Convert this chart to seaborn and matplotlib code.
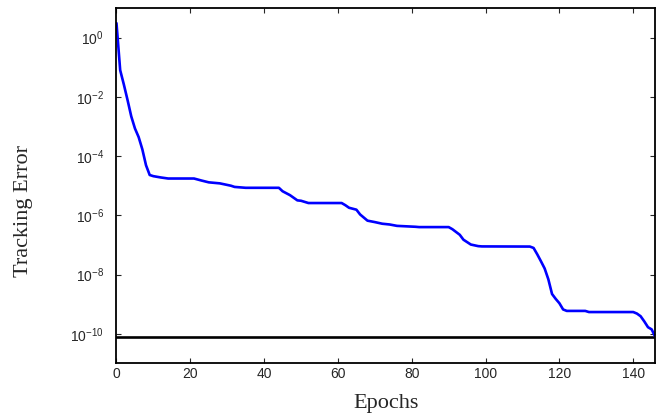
import pandas as pd
import numpy as np
import matplotlib
matplotlib.use("Agg")
import matplotlib.pyplot as plt
import seaborn as sns

# Data (training performance curve)
epochs = [0, 1, 2, 3, 4, 5, 6, 7, 8, 9, 10, 12, 14, 21, 23, 25, 28, 31, 32, 35,
          44, 45, 47, 49, 50, 52, 61, 62, 63, 65, 66, 68, 70, 72, 74, 76, 81, 82,
          90, 91, 93, 94, 96, 98, 99, 112, 113, 114, 115, 116, 117, 118, 119, 120,
          121, 122, 127, 128, 140, 141, 142, 143, 144, 145, 146]
tracking_error = [3.1, 8e-2, 2.6e-2, 7.8e-3, 2.2e-3, 8.6e-4, 4.4e-4, 1.7e-4, 4.9e-5,
                  2.3e-5, 2.1e-5, 1.9e-5, 1.75e-5, 1.75e-5, 1.5e-5, 1.3e-5, 1.2e-5,
                  1.0e-5, 9.1e-6, 8.5e-6, 8.5e-6, 6.5e-6, 4.8e-6, 3.2e-6, 3.1e-6,
                  2.6e-6, 2.6e-6, 2.2e-6, 1.8e-6, 1.55e-6, 1.07e-6, 6.6e-7, 5.9e-7,
                  5.2e-7, 4.9e-7, 4.4e-7, 4.1e-7, 4.0e-7, 4.0e-7, 3.4e-7, 2.2e-7,
                  1.5e-7, 1.03e-7, 9.1e-8, 8.9e-8, 8.8e-8, 7.9e-8, 4.8e-8, 2.8e-8,
                  1.6e-8, 6.9e-9, 2.2e-9, 1.5e-9, 1.07e-9, 6.6e-10, 5.9e-10, 5.9e-10,
                  5.4e-10, 5.4e-10, 4.8e-10, 3.9e-10, 2.6e-10, 1.66e-10, 1.4e-10, 7.7e-11]
goal = 7.5e-11
x_ticks = [0, 20, 40, 60, 80, 100, 120, 140]
y_ticks = [1e0, 1e-2, 1e-4, 1e-6, 1e-8, 1e-10]

sns.set_style("ticks")
plt.rcParams["font.family"] = ["Liberation Sans", "DejaVu Sans"]
plt.rcParams["mathtext.fontset"] = "custom"
plt.rcParams["mathtext.rm"] = "Liberation Sans"
plt.rcParams["mathtext.default"] = "regular"

df = pd.DataFrame({"Epochs": epochs, "TrackingError": tracking_error})

fig = plt.figure(figsize=(6.6, 4.15), dpi=100)
ax = fig.add_axes([0.1765, 0.1245, 0.8165, 0.856])

sns.lineplot(data=df, x="Epochs", y="TrackingError", color="#0000ff", linewidth=1.9, ax=ax)
ax.axhline(goal, color="black", linewidth=1.9, zorder=1)

ax.set_yscale("log")
ax.set_xlim(0, 146)
ax.set_ylim(1e-11, 1e1)
ax.set_xticks(x_ticks)
ax.set_yticks(y_ticks)
ax.yaxis.set_minor_locator(matplotlib.ticker.NullLocator())
ax.tick_params(direction="in", length=3.5, width=0.8, top=True, right=True,
               labelsize=10, pad=3)
ax.tick_params(axis="y", pad=9)

for s in ax.spines.values():
    s.set_visible(True)
    s.set_linewidth(1.3)
    s.set_color("black")

ax.set_xlabel("Epochs", family=["Liberation Serif", "DejaVu Serif"], fontsize=16, labelpad=9)
ax.set_ylabel("Tracking Error", family=["Liberation Serif", "DejaVu Serif"], fontsize=16)
ax.yaxis.set_label_coords(-0.155, 0.43)

fig.savefig("out.png", dpi=100)
